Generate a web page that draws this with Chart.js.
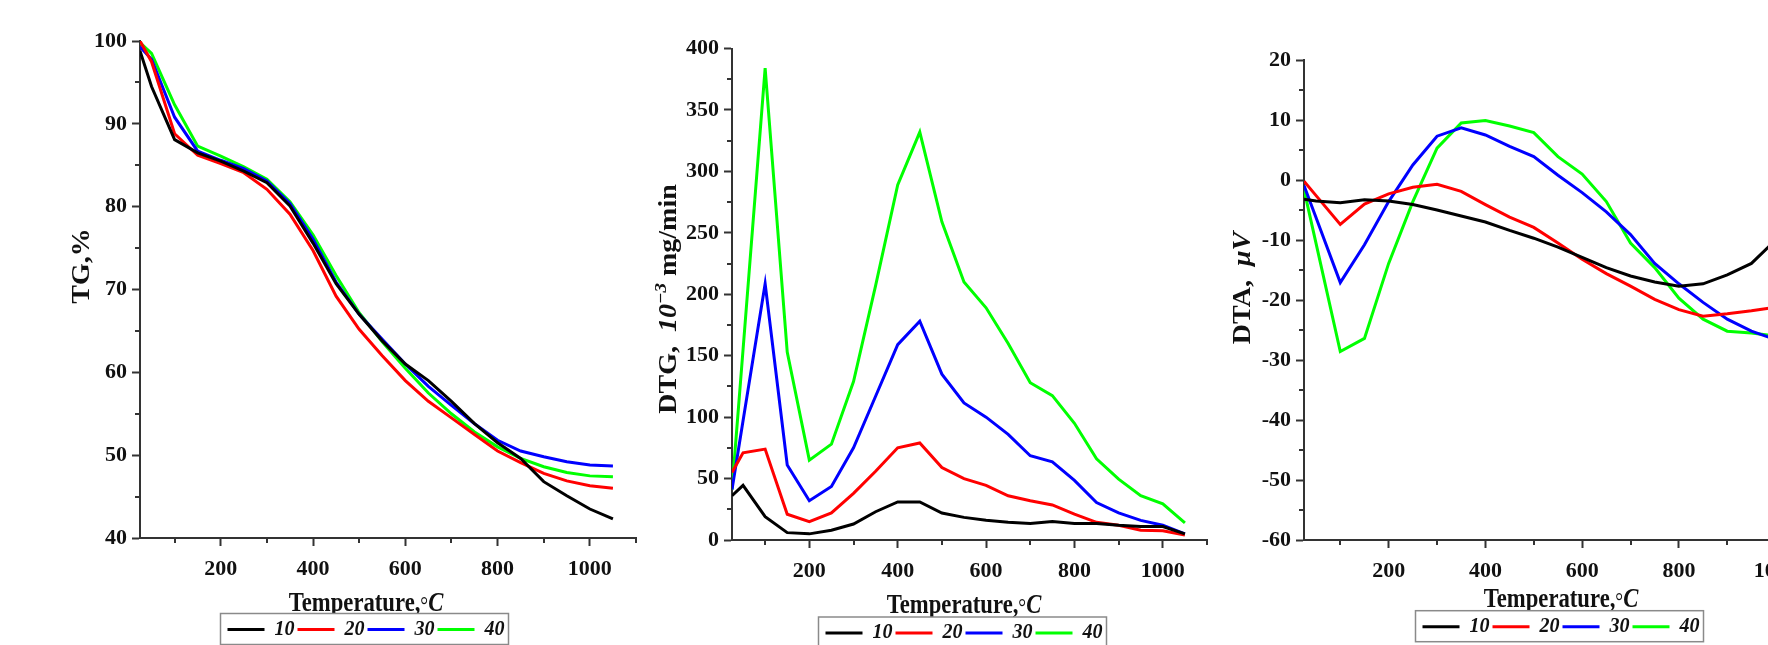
<!DOCTYPE html>
<html>
<head>
<meta charset="utf-8">
<script src="https://cdn.jsdelivr.net/npm/chart.js@4.4.1/dist/chart.umd.min.js"></script>
<style>
  html, body { margin: 0; padding: 0; background: #fff; }
  #wrap { position: relative; width: 1768px; height: 645px; overflow: hidden; }
  canvas { position: absolute; top: 0; }
</style>
</head>
<body>
<div id="wrap">
  <canvas id="tg" width="732" height="645" style="left:0px"></canvas>
  <canvas id="dtg" width="648" height="645" style="left:640px"></canvas>
  <canvas id="dta" width="702" height="645" style="left:1210px"></canvas>
</div>
<script>
// temperature points, deg C
const temps = [25, 50, 100, 150, 200, 250, 300, 350, 400, 450, 500, 550, 600, 650, 700, 750, 800, 850, 900, 950, 1000, 1050];
const rates = ['10', '20', '30', '40'];
const lineColors = ['#000000', '#ff0000', '#0000ff', '#00ff00'];

// TG, %
const tg10 = [98.8, 94.5, 88.1, 86.5, 85.5, 84.3, 82.9, 80.1, 75.6, 70.7, 67.0, 63.8, 61.0, 59.0, 56.5, 53.8, 51.5, 49.6, 46.8, 45.1, 43.5, 42.3];
const tg20 = [100, 97.5, 88.8, 86.2, 85.2, 84.1, 82.1, 79.1, 74.7, 69.2, 65.2, 62.0, 59.0, 56.5, 54.5, 52.5, 50.5, 49.1, 47.8, 46.9, 46.3, 46.0];
const tg30 = [99.3, 97.8, 90.8, 86.7, 85.6, 84.6, 83.1, 80.4, 76.1, 70.9, 67.0, 64.0, 61.0, 58.3, 56.0, 53.8, 51.8, 50.5, 49.8, 49.2, 48.8, 48.7];
const tg40 = [99.8, 98.5, 92.3, 87.3, 86.1, 84.8, 83.3, 80.6, 76.6, 71.7, 67.2, 63.7, 60.5, 57.5, 55.0, 52.8, 51.0, 49.6, 48.6, 47.9, 47.5, 47.4];

// DTG, 10^-3 mg/min
const dtg10 = [36, 44.5, 19, 6, 5, 8, 13, 23, 31, 31, 22, 18.4, 16, 14.4, 13.4, 15, 13.4, 13.4, 12, 11, 11, 5];
const dtg20 = [55, 71, 74, 21, 15, 22, 38, 56, 75, 79, 59, 50, 44.5, 36, 32, 28.5, 21, 14.4, 12, 8, 7.5, 4];
const dtg30 = [41, 97, 208.5, 61, 32, 43.5, 75, 117, 159, 178, 135, 111.5, 100, 86, 68.6, 63.6, 48.5, 30.5, 22, 16, 12, 5];
const dtg40 = [41, 155, 384, 153, 65, 78, 129, 207, 289, 332, 259, 210, 189, 160, 128, 117.5, 95, 66, 49.5, 36, 29.5, 14];

// DTA, uV
const dta10 = [-3.2, -3.5, -3.8, -3.3, -3.5, -4.1, -5.0, -6.0, -7.0, -8.4, -9.7, -11.2, -12.9, -14.6, -16.0, -17.0, -17.7, -17.3, -15.8, -13.9, -10.0, -5.0];
const dta20 = [-0.2, -2.6, -7.4, -4.0, -2.3, -1.2, -0.7, -1.9, -4.1, -6.2, -7.9, -10.5, -13.2, -15.6, -17.7, -19.9, -21.6, -22.7, -22.3, -21.8, -21.2, -20.8];
const dta30 = [-0.9, -6.3, -17.1, -10.8, -3.6, 2.5, 7.3, 8.7, 7.5, 5.6, 3.9, 0.8, -2.1, -5.3, -9.1, -13.9, -17.3, -20.4, -23.2, -25.2, -26.6, -27.5];
const dta40 = [-1.6, -10.6, -28.6, -26.4, -13.9, -3.6, 5.3, 9.5, 9.9, 9.0, 7.9, 3.9, 1.0, -3.6, -10.5, -14.6, -19.7, -23.2, -25.2, -25.5, -26.0, -26.5];

// ticks
const xTicks = [200, 400, 600, 800, 1000];
const xMinor = [100, 300, 500, 700, 900, 1100];
const tgMinor = [45, 55, 65, 75, 85, 95];
const dtgMinor = [25, 75, 125, 175, 225, 275, 325, 375];
const dtaMinor = [-55, -45, -35, -25, -15, -5, 5, 15];

const SERIF = '"Liberation Serif", "Times New Roman", serif';
const B = 'bold 28px ' + SERIF;
const BI = 'italic bold 28px ' + SERIF;
const axisColor = '#333';
const textColor = '#111';

const xTitle = [
  {t: 'Temperature,', f: B},
  {t: '°', f: '24px ' + SERIF, dy: 2},
  {t: 'C', f: BI}
];

function drawRich(ctx, parts, x, y, rot, sx, sy) {
  ctx.save();
  ctx.translate(x, y);
  ctx.rotate(rot);
  ctx.scale(sx, sy);
  ctx.textAlign = 'left';
  ctx.textBaseline = 'alphabetic';
  ctx.fillStyle = textColor;
  let w = 0;
  parts.forEach(p => { ctx.font = p.f; w += ctx.measureText(p.t).width; });
  let cx = -w / 2;
  parts.forEach(p => {
    ctx.font = p.f;
    ctx.fillText(p.t, cx, p.dy || 0);
    cx += ctx.measureText(p.t).width;
  });
  ctx.restore();
}

function makeDecor(m) {
  return {
    id: 'decor',
    beforeDraw(chart) {
      const ctx = chart.ctx;
      drawRich(ctx, xTitle, chart.width / 2, m.xTitleY, 0, 0.81, 1);
      drawRich(ctx, m.yTitle, m.yTitleX, m.yTitleY, -Math.PI / 2, 1, 0.87);
      // frame round the legend
      const lg = chart.legend;
      const hb = lg.legendHitBoxes;
      const l = Math.min(...hb.map(h => h.left)) - 7;
      const r = Math.max(...hb.map(h => h.left + h.width)) + 4;
      const t = lg.top - 3;
      ctx.save();
      ctx.fillStyle = '#fff';
      ctx.strokeStyle = '#8a8a8a';
      ctx.lineWidth = 1.5;
      ctx.fillRect(l, t, r - l, 31);
      ctx.strokeRect(l, t, r - l, 31);
      ctx.restore();
    },
    afterDraw(chart) {
      const ctx = chart.ctx;
      const xs = chart.scales.x, ys = chart.scales.y;
      ctx.save();
      ctx.strokeStyle = axisColor;
      ctx.lineWidth = 2;
      ctx.beginPath();
      xMinor.forEach(v => {
        const px = Math.round(xs.getPixelForValue(v));
        ctx.moveTo(px, xs.top);
        ctx.lineTo(px, xs.top + 5);
      });
      m.yMinor.forEach(v => {
        const py = Math.round(ys.getPixelForValue(v));
        ctx.moveTo(ys.right, py);
        ctx.lineTo(ys.right - 5, py);
      });
      ctx.stroke();
      ctx.restore();
    }
  };
}

function makePanel(id, series, m) {
  const datasets = series.map((vals, i) => ({
    label: rates[i],
    data: temps.map((t, j) => ({x: t, y: vals[j]})),
    borderColor: lineColors[i],
    backgroundColor: lineColors[i],
    borderWidth: 3,
    pointRadius: 0,
    tension: 0,
    fill: false
  }));
  const tickFont = {family: SERIF, size: 22, weight: 'bold'};
  new Chart(document.getElementById(id), {
    type: 'line',
    data: {datasets},
    options: {
      responsive: false,
      animation: false,
      layout: {padding: {top: m.top, left: 0, right: 0, bottom: 0}},
      plugins: {
        tooltip: {enabled: false},
        legend: {
          position: 'bottom',
          maxHeight: m.legendH,
          labels: {
            boxWidth: 37,
            boxHeight: 3,
            padding: 3,
            color: textColor,
            font: {family: SERIF, size: 20, weight: 'bold', style: 'italic'},
            generateLabels(chart) {
              return Chart.defaults.plugins.legend.labels.generateLabels(chart)
                .map(l => Object.assign(l, {fillStyle: l.strokeStyle, lineWidth: 0}));
            }
          }
        }
      },
      scales: {
        x: {
          type: 'linear',
          min: 25,
          max: 1100,
          afterBuildTicks: s => { s.ticks = xTicks.map(v => ({value: v})); },
          afterFit: s => { s.height = m.xH; },
          grid: {drawOnChartArea: false, drawTicks: true, tickLength: 8, tickColor: axisColor, tickWidth: 2},
          border: {display: true, color: axisColor, width: 2},
          ticks: {font: tickFont, color: textColor, padding: 10, maxRotation: 0, callback: v => String(v)}
        },
        y: {
          min: m.yMin,
          max: m.yMax,
          afterFit: s => { s.width = m.leftW; },
          grid: {drawOnChartArea: false, drawTicks: true, tickLength: 8, tickColor: axisColor, tickWidth: 2},
          border: {display: true, color: axisColor, width: 2},
          ticks: {stepSize: m.yStep, font: tickFont, color: textColor, padding: 5, callback: v => String(v)}
        },
        yR: {
          position: 'right',
          display: true,
          grid: {display: false},
          border: {display: false},
          ticks: {display: false},
          afterFit: s => { s.width = m.rightW; }
        }
      }
    },
    plugins: [makeDecor(m)]
  });
}

makePanel('tg', [tg10, tg20, tg30, tg40], {
  top: 41, xH: 78.5, legendH: 28.5, leftW: 140, rightW: 96,
  yMin: 40, yMax: 100, yStep: 10, yMinor: tgMinor,
  xTitleY: 611, yTitleX: 89, yTitleY: 266,
  yTitle: [{t: 'TG,%', f: B}]
});

makePanel('dtg', [dtg10, dtg20, dtg30, dtg40], {
  top: 48.5, xH: 80, legendH: 25, leftW: 92, rightW: 81,
  yMin: 0, yMax: 400, yStep: 50, yMinor: dtgMinor,
  xTitleY: 613, yTitleX: 36, yTitleY: 299,
  yTitle: [
    {t: 'DTG,  ', f: B},
    {t: '10', f: BI},
    {t: '−3', f: 'italic bold 19px ' + SERIF, dy: -12},
    {t: ' mg/min', f: B}
  ]
});

makePanel('dta', [dta10, dta20, dta30, dta40], {
  top: 60, xH: 73.7, legendH: 31.3, leftW: 94, rightW: 88,
  yMin: -60, yMax: 20, yStep: 10, yMinor: dtaMinor,
  xTitleY: 607, yTitleX: 40, yTitleY: 288,
  yTitle: [
    {t: 'DTA,  ', f: B},
    {t: 'μV', f: BI}
  ]
});
</script>
</body>
</html>
